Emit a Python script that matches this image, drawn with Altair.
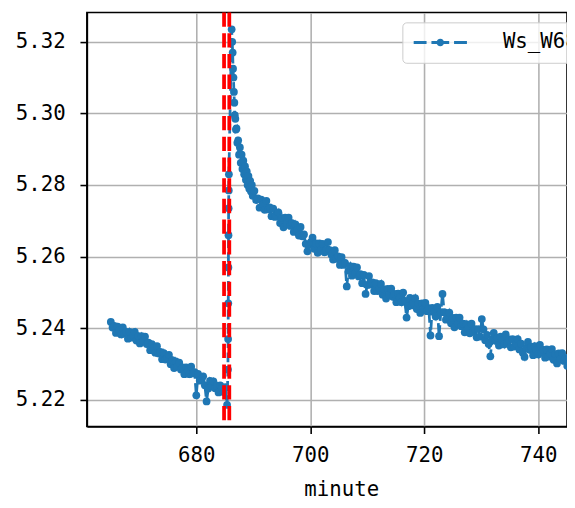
import altair as alt
import pandas as pd

# ---- data ----
series_name = "Ws_W68"

# steady decline before the event (regular sampling)
seg1_start = 665.0
seg_step = 0.3
seg1_y = [5.2418, 5.2402, 5.2407, 5.2387, 5.2405, 5.2395, 5.2383, 5.2403, 5.2385, 5.2390,
          5.2371, 5.2390, 5.2374, 5.2380, 5.2390, 5.2366, 5.2378, 5.2358, 5.2378, 5.2365,
          5.2377, 5.2356, 5.2360, 5.2339, 5.2356, 5.2345, 5.2332, 5.2350, 5.2330, 5.2334,
          5.2314, 5.2331, 5.2313, 5.2318, 5.2326, 5.2300, 5.2311, 5.2289, 5.2308, 5.2293,
          5.2304, 5.2285, 5.2291, 5.2272, 5.2291, 5.2283, 5.2272, 5.2293, 5.2274, 5.2278,
          5.2213, 5.2273, 5.2254, 5.2258, 5.2266, 5.2241, 5.2196, 5.2232, 5.2253, 5.2240,
          5.2252, 5.2233, 5.2240, 5.2221, 5.2241, 5.2233, 5.2222, 5.2236, 5.2186]

# jump and steep decay (irregular times)
jump_x = [685.55, 685.58, 685.61, 685.63, 685.65, 685.67, 685.70, 685.72,
          686.20, 686.30, 686.38, 686.45, 686.52, 686.60, 686.68, 686.75,
          686.85, 686.95, 687.05, 687.20, 687.35, 687.50, 687.65, 687.80,
          687.95, 688.10, 688.25, 688.40, 688.55, 688.70, 688.85, 689.00,
          689.15, 689.30, 689.45, 689.60, 689.75, 689.90]
jump_y = [5.2285, 5.2370, 5.2470, 5.2570, 5.2660, 5.2735, 5.2785, 5.2830,
          5.3235, 5.3200, 5.3170, 5.3125, 5.3100, 5.3060, 5.3030, 5.2995,
          5.2985, 5.2955, 5.2958, 5.2918, 5.2925, 5.2885, 5.2905, 5.2862,
          5.2885, 5.2845, 5.2868, 5.2830, 5.2852, 5.2815, 5.2838, 5.2800,
          5.2825, 5.2790, 5.2812, 5.2782, 5.2800, 5.2770]

# slow recovery (regular sampling)
seg2_start = 690.2
seg2_y = [5.2784, 5.2758, 5.2763, 5.2737, 5.2759, 5.2746, 5.2731, 5.2756, 5.2732, 5.2738,
          5.2713, 5.2734, 5.2711, 5.2713, 5.2724, 5.2694, 5.2708, 5.2682, 5.2709, 5.2693,
          5.2709, 5.2686, 5.2694, 5.2669, 5.2690, 5.2675, 5.2659, 5.2683, 5.2657, 5.2662,
          5.2636, 5.2615, 5.2633, 5.2641, 5.2653, 5.2622, 5.2637, 5.2611, 5.2637, 5.2620,
          5.2636, 5.2612, 5.2619, 5.2641, 5.2618, 5.2606, 5.2592, 5.2618, 5.2594, 5.2601,
          5.2577, 5.2599, 5.2577, 5.2583, 5.2517, 5.2561, 5.2574, 5.2547, 5.2572, 5.2554,
          5.2570, 5.2545, 5.2551, 5.2526, 5.2549, 5.2496, 5.2521, 5.2546, 5.2522, 5.2528,
          5.2504, 5.2526, 5.2504, 5.2512, 5.2524, 5.2494, 5.2509, 5.2483, 5.2510, 5.2494,
          5.2511, 5.2488, 5.2496, 5.2473, 5.2497, 5.2486, 5.2473, 5.2500, 5.2477, 5.2430,
          5.2462, 5.2485, 5.2464, 5.2472, 5.2484, 5.2454, 5.2469, 5.2443, 5.2470, 5.2454,
          5.2471, 5.2448, 5.2456, 5.2380, 5.2457, 5.2446, 5.2433, 5.2460, 5.2378, 5.2445,
          5.2496, 5.2445, 5.2424, 5.2432, 5.2444, 5.2414, 5.2429, 5.2403, 5.2430, 5.2414,
          5.2430, 5.2406, 5.2413, 5.2389, 5.2412, 5.2400, 5.2386, 5.2413, 5.2390, 5.2398,
          5.2375, 5.2398, 5.2377, 5.2426, 5.2397, 5.2367, 5.2382, 5.2356, 5.2322, 5.2369,
          5.2387, 5.2365, 5.2374, 5.2352, 5.2377, 5.2367, 5.2355, 5.2383, 5.2360, 5.2369,
          5.2347, 5.2370, 5.2349, 5.2358, 5.2370, 5.2341, 5.2357, 5.2332, 5.2320, 5.2345,
          5.2362, 5.2340, 5.2348, 5.2325, 5.2350, 5.2339, 5.2327, 5.2354, 5.2332, 5.2340,
          5.2318, 5.2341, 5.2321, 5.2329, 5.2342, 5.2312, 5.2328, 5.2302, 5.2330, 5.2314,
          5.2331, 5.2309, 5.2317, 5.2295, 5.2319]

vline_minutes = [684.87, 685.79]
x_ticks = [680, 700, 720, 740]
y_ticks = [5.22, 5.24, 5.26, 5.28, 5.30, 5.32]
x_domain = [660.796, 745.05]
y_domain = [5.21257, 5.32818]

# ---- assemble table ----
seg1_x = [round(seg1_start + seg_step * i, 2) for i in range(len(seg1_y))]
seg2_x = [round(seg2_start + seg_step * i, 2) for i in range(len(seg2_y))]
df = pd.DataFrame({
    "minute": seg1_x + jump_x + seg2_x,
    "value": seg1_y + jump_y + seg2_y,
})
df["series"] = series_name
vdf = pd.DataFrame({"minute": vline_minutes})

FONT = "DejaVu Sans Mono"
BLUE = "#1f77b4"

xscale = alt.Scale(domain=x_domain, nice=False, zero=False)
xenc = alt.X("minute:Q", scale=xscale,
             axis=alt.Axis(values=x_ticks, format="d", title="minute",
                           titleX=258, titleY=70, titleBaseline="alphabetic",
                           labelPadding=11))
yenc = alt.Y("value:Q", scale=alt.Scale(domain=y_domain, nice=False, zero=False),
             axis=alt.Axis(values=y_ticks, format=".2f", title=None, labelPadding=15))

legend_path = ("M-3,-0.17H-1.55V0.17H-3Z M-1,-0.17H1V0.17H-1Z M1.55,-0.17H3V0.17H1.55Z "
               "M-0.42,0A0.42,0.42 0 1,1 0.42,0A0.42,0.42 0 1,1 -0.42,0Z")

rules = alt.Chart(vdf).mark_rule(color="red", strokeWidth=3.8, strokeDash=[14.5, 6.5]).encode(
    x=alt.X("minute:Q", scale=xscale)
)

line = alt.Chart(df).mark_line(color=BLUE, strokeWidth=2.8, strokeDash=[10, 4.5], clip=True).encode(
    x=xenc, y=yenc
)

points = alt.Chart(df).mark_circle(size=62, opacity=1, clip=True).encode(
    x=xenc, y=yenc,
    color=alt.Color("series:N", scale=alt.Scale(domain=[series_name], range=[BLUE]),
                    legend=alt.Legend(orient="none", legendX=320, legendY=10, title=None,
                                      symbolType=legend_path, symbolSize=324,
                                      symbolOffset=18, labelOffset=53,
                                      symbolStrokeWidth=0,
                                      labelFont=FONT, labelFontSize=21, labelColor="black",
                                      padding=10, strokeColor="#cccccc",
                                      fillColor="rgba(255,255,255,0.8)", cornerRadius=4))
)

chart = alt.layer(line, points, rules).properties(
    width=487, height=420,
    autosize=alt.AutoSizeParams(type="none"),
    padding={"left": 80, "top": 1, "right": 0, "bottom": 78},
).configure_view(
    stroke="black", strokeWidth=1.6
).configure_axis(
    grid=True, gridColor="#b0b0b0", gridWidth=1.6,
    domainColor="black", domainWidth=1.6,
    tickColor="black", tickWidth=1.6, tickSize=7,
    labelFont=FONT, labelFontSize=21, labelColor="black",
    titleFont=FONT, titleFontSize=21, titleColor="black", titleFontWeight="normal",
)

chart.save("out.html", embed_options={"renderer": "svg", "actions": False})
